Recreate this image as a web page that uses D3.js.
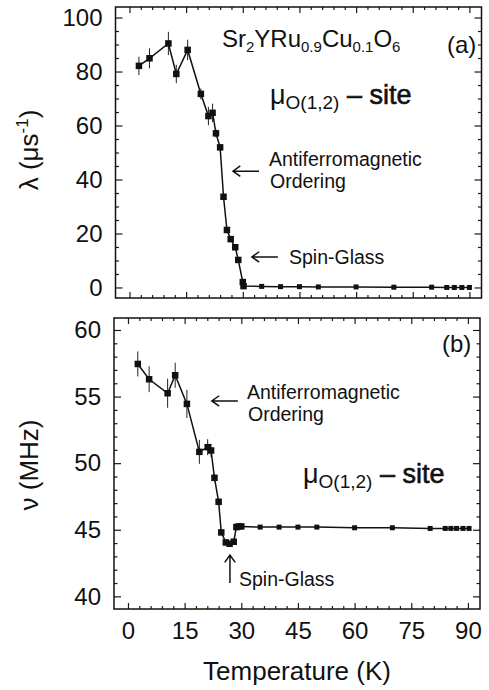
<!DOCTYPE html>
<html lang="en">
<head>
<meta charset="UTF-8">
<title>Sr2YRu0.9Cu0.1O6 muSR</title>
<script src="https://d3js.org/d3.v7.min.js"></script>
<style>
    body { margin: 0; background: #fff; }
    svg { font-family: "Liberation Sans", Arial, sans-serif; }
    .tick line { stroke: #1a1a1a; stroke-width: 1.2px; }
    .frame { fill: none; stroke: #111; stroke-width: 1.5px; }
    .curve { fill: none; stroke: #111; stroke-width: 1.5px; }
    .err { stroke: #222; stroke-width: 1px; }
    .arrow { fill: none; stroke: #111; stroke-width: 1.5px; }
</style>
</head>
<body>
<svg id="chart" width="489" height="690"></svg>
<script>
    // panel (a): relaxation rate lambda vs temperature
    const tempA = [2.5, 5.3, 10.3, 12.4, 15.4, 18.9, 20.9, 22.0, 22.9, 24.0, 24.9, 25.8, 26.8, 28.0, 28.8, 30.0, 30.2,
                   35, 40, 45, 50, 60, 70, 80, 84, 86, 88, 90];
    const lambdaA = [82.1, 84.9, 90.4, 79.1, 88.0, 71.7, 63.5, 64.7, 57.1, 51.9, 33.6, 21.3, 17.9, 14.9, 10.2, 2.0, 0.5,
                     0.4, 0.3, 0.3, 0.2, 0.2, 0.1, 0.1, 0.0, 0.0, 0.0, 0.0];
    const lambdaErr = [3.4, 3.7, 4.3, 3.4, 3.8, 2.0, 3.4, 3.4, 1.5, 1.2, 1, 1, 1, 1, 1, 0.8, 0.5,
                       0, 0, 0, 0, 0, 0, 0, 0, 0, 0, 0];

    // panel (b): precession frequency nu vs temperature
    const tempB = [2.6, 5.6, 10.5, 12.5, 15.6, 18.9, 21.1, 22.0, 22.9, 24.0, 24.7, 25.9, 26.9, 28.0, 28.7, 29.3, 30.0,
                   35, 40, 45, 50, 60, 70, 80, 84, 85.5, 87, 88.7, 90.3];
    const nuB = [57.45, 56.3, 55.25, 56.6, 54.45, 50.85, 51.2, 50.95, 48.9, 47.1, 44.8, 44.05, 43.95, 44.1, 45.2, 45.25, 45.25,
                 45.2, 45.2, 45.2, 45.2, 45.15, 45.15, 45.1, 45.1, 45.1, 45.1, 45.1, 45.1];
    const nuErr = [0.94, 0.97, 1.09, 0.94, 1.06, 0.9, 0.6, 0.5, 0.3, 0.2, 0.2, 0.2, 0.2, 0.2, 0.1, 0.1, 0.1,
                   0, 0, 0, 0, 0, 0, 0, 0, 0, 0, 0, 0];

    const xMajor = [0, 15, 30, 45, 60, 75, 90];
    const xMinor = d3.range(3, 90, 3).filter(v => v % 15 !== 0);
    const yMajorA = [0, 20, 40, 60, 80, 100];
    const yMinorA = d3.range(5, 105, 5).filter(v => v % 20 !== 0);
    const yMajorB = [40, 45, 50, 55, 60];
    const yMinorB = d3.range(41, 61, 1).filter(v => v % 5 !== 0);

    const svg = d3.select("#chart");

    const xA = d3.scaleLinear().domain([-3.7, 93.2]).range([115.5, 481.5]);
    const yA = d3.scaleLinear().domain([-3.9, 103.9]).range([298, 7]);
    const xB = d3.scaleLinear().domain([-3.7, 93.2]).range([114, 480]);
    const yB = d3.scaleLinear().domain([39.05, 60.9]).range([609, 318]);

    function drawAxes(x, y, yMaj, yMin, labelX) {
        const g = svg.append("g");
        const [x0, x1] = x.range(), [y0, y1] = y.range();
        const tidy = s => s.call(a => a.select(".domain").remove())
                           .attr("font-size", 24)
                           .attr("font-family", "Liberation Sans, Arial, sans-serif")
                           .attr("fill", "#111");

        g.append("g").attr("transform", `translate(0,${y0})`)
            .call(d3.axisBottom(x).tickValues(xMajor).tickSize(-6).tickPadding(13)
                .tickFormat(labelX ? d3.format("d") : ""))
            .call(tidy);
        g.append("g").attr("transform", `translate(0,${y0})`)
            .call(d3.axisBottom(x).tickValues(xMinor).tickSize(-3).tickFormat("")).call(tidy);
        g.append("g").attr("transform", `translate(0,${y1})`)
            .call(d3.axisTop(x).tickValues(xMajor).tickSize(-6).tickFormat("")).call(tidy);
        g.append("g").attr("transform", `translate(0,${y1})`)
            .call(d3.axisTop(x).tickValues(xMinor).tickSize(-3).tickFormat("")).call(tidy);

        g.append("g").attr("transform", `translate(${x0},0)`)
            .call(d3.axisLeft(y).tickValues(yMaj).tickSize(-7).tickPadding(13).tickFormat(d3.format("d")))
            .call(tidy);
        g.append("g").attr("transform", `translate(${x0},0)`)
            .call(d3.axisLeft(y).tickValues(yMin).tickSize(-3.5).tickFormat("")).call(tidy);
        g.append("g").attr("transform", `translate(${x1},0)`)
            .call(d3.axisRight(y).tickValues(yMaj).tickSize(-7).tickFormat("")).call(tidy);
        g.append("g").attr("transform", `translate(${x1},0)`)
            .call(d3.axisRight(y).tickValues(yMin).tickSize(-3.5).tickFormat("")).call(tidy);

        g.selectAll(".tick text").attr("fill", "#111");

        g.append("rect").attr("class", "frame")
            .attr("x", x0).attr("y", y1).attr("width", x1 - x0).attr("height", y0 - y1);
    }

    function drawSeries(x, y, ts, vs, es) {
        const pts = ts.map((t, i) => ({t: t, v: vs[i], e: es[i]}));
        const g = svg.append("g");
        g.selectAll(".err").data(pts.filter(d => d.e > 0)).enter().append("line")
            .attr("class", "err")
            .attr("x1", d => x(d.t)).attr("x2", d => x(d.t))
            .attr("y1", d => y(d.v - d.e)).attr("y2", d => y(d.v + d.e));
        g.append("path").attr("class", "curve").datum(pts)
            .attr("d", d3.line().x(d => x(d.t)).y(d => y(d.v)));
        g.selectAll(".pt").data(pts).enter().append("rect")
            .attr("fill", "#111")
            .attr("width", d => d.t < 31 ? 6.5 : 5)
            .attr("height", d => d.t < 31 ? 6.5 : 5)
            .attr("x", d => x(d.t) - (d.t < 31 ? 3.25 : 2.5))
            .attr("y", d => y(d.v) - (d.t < 31 ? 3.25 : 2.5));
    }

    function arrow(x, y, from, to) {
        const [ax, ay] = [x(from[0]), y(from[1])];
        const [bx, by] = [x(to[0]), y(to[1])];
        const ang = Math.atan2(by - ay, bx - ax);
        const L = 9, spread = 0.62;
        const p1 = [bx - L * Math.cos(ang - spread), by - L * Math.sin(ang - spread)];
        const p2 = [bx - L * Math.cos(ang + spread), by - L * Math.sin(ang + spread)];
        svg.append("path").attr("class", "arrow")
            .attr("d", `M${ax},${ay}L${bx},${by}M${p1[0]},${p1[1]}L${bx},${by}L${p2[0]},${p2[1]}`);
    }

    function label(x, yPos, parts, size) {
        const t = svg.append("text").attr("x", x).attr("y", yPos).attr("fill", "#111").attr("font-size", size);
        parts.forEach(p => {
            const s = t.append("tspan").text(p.s);
            if (p.size) s.attr("font-size", p.size);
            if (p.dy) s.attr("dy", p.dy);
            if (p.bold) s.attr("stroke", "#111").attr("stroke-width", 0.6);
        });
        return t;
    }

    drawAxes(xA, yA, yMajorA, yMinorA, false);
    drawAxes(xB, yB, yMajorB, yMinorB, true);
    drawSeries(xA, yA, tempA, lambdaA, lambdaErr);
    drawSeries(xB, yB, tempB, nuB, nuErr);

    // panel (a) annotations
    label(222, 47, [{s: "Sr"}, {s: "2", size: 15, dy: 5}, {s: "YRu", dy: -5}, {s: "0.9", size: 15, dy: 5},
                    {s: "Cu", dy: -5}, {s: "0.1", size: 15, dy: 5}, {s: "O", dy: -5}, {s: "6", size: 15, dy: 5}], 24);
    label(447, 53, [{s: "(a)"}], 24);
    label(270, 104, [{s: "μ", size: 27}, {s: "O(1,2)", size: 19, dy: 5}, {s: " – site", dy: -5, bold: true}], 27);
    label(269, 166, [{s: "Antiferromagnetic"}], 19.5);
    label(270, 188, [{s: "Ordering"}], 19.5);
    label(289, 264, [{s: "Spin-Glass"}], 19.5);
    arrow(xA, yA, [34.3, 43.1], [27.4, 43.1]);
    arrow(xA, yA, [39.3, 11.3], [32.4, 11.3]);

    // panel (b) annotations
    label(442, 352, [{s: "(b)"}], 24);
    label(247, 399, [{s: "Antiferromagnetic"}], 19.5);
    label(248, 421, [{s: "Ordering"}], 19.5);
    label(303, 483, [{s: "μ", size: 27}, {s: "O(1,2)", size: 19, dy: 5}, {s: " – site", dy: -5, bold: true}], 27);
    label(239, 586, [{s: "Spin-Glass"}], 19.5);
    arrow(xB, yB, [29.1, 54.67], [22.2, 54.67]);
    arrow(xB, yB, [27.0, 41.0], [27.0, 43.1]);

    // axis titles
    svg.append("text").attr("x", 297).attr("y", 680).attr("text-anchor", "middle")
        .attr("font-size", 26).attr("fill", "#111").text("Temperature (K)");

    const lt = svg.append("text").attr("transform", "translate(38,150) rotate(-90)")
        .attr("text-anchor", "middle").attr("font-size", 26).attr("fill", "#111");
    lt.append("tspan").text("λ (μs");
    lt.append("tspan").attr("font-size", 17).attr("dy", -10).text("-1");
    lt.append("tspan").attr("dy", 10).text(")");

    svg.append("text").attr("transform", "translate(38,465) rotate(-90)")
        .attr("text-anchor", "middle").attr("font-size", 26).attr("fill", "#111").text("ν (MHz)");
</script>
</body>
</html>
